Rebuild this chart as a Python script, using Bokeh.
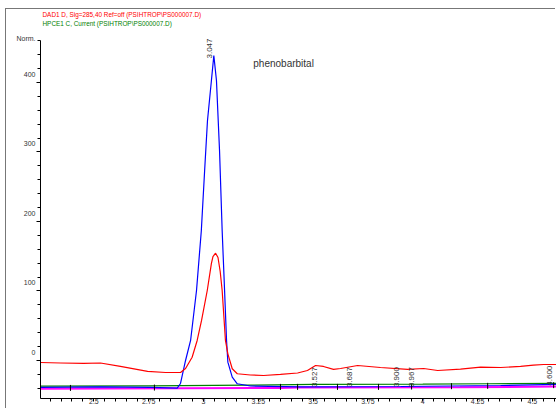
from math import pi

import numpy as np
from bokeh.core.properties import value
from bokeh.embed import file_html
from bokeh.models import FixedTicker, Label, LinearAxis, Range1d
from bokeh.plotting import figure
from bokeh.resources import INLINE

# ---- DAD1 D, Sig=285,40 (red trace): retention time [min] vs response [Norm.]
dad_time = [2.256, 2.348, 2.453, 2.530, 2.621, 2.745, 2.827, 2.895, 2.918, 2.948,
            2.971, 2.991, 3.017, 3.036, 3.043, 3.055, 3.066, 3.076, 3.085, 3.100,
            3.111, 3.131, 3.154, 3.214, 3.274, 3.351, 3.429, 3.474, 3.511, 3.547,
            3.593, 3.625, 3.703, 3.807, 3.931, 4.004, 4.068, 4.172, 4.264, 4.355,
            4.446, 4.505, 4.551, 4.610]
dad_signal = [-2.9, -3.6, -4.3, -3.6, -8.6, -15.8, -17.3, -17.3, -11.5, 4.7,
              28.8, 57.6, 100.7, 139.6, 149.6, 154.4, 148.2, 128.0, 100.7, 28.8,
              9.6, -11.9, -19.1, -20.9, -21.6, -20.1, -18.0, -14.4, -7.2, -8.6,
              -12.9, -11.5, -7.2, -10.1, -12.9, -11.5, -14.4, -12.5, -9.6, -10.1,
              -8.6, -6.8, -5.8, -5.8]

# ---- integrated signal (blue trace)
int_time = [2.256, 2.530, 2.758, 2.880, 2.895, 2.918, 2.941, 2.968, 2.990, 3.005,
            3.018, 3.036, 3.047, 3.059, 3.073, 3.085, 3.096, 3.105, 3.111, 3.131,
            3.154, 3.214, 3.443, 3.899, 4.355, 4.610]
int_signal = [-38.8, -38.1, -38.8, -39.9, -33.1, 0.0, 28.8, 100.7, 187.0, 273.0,
              345.0, 402.9, 438.8, 402.9, 302.0, 187.0, 100.7, 28.8, -2.4, -24.0,
              -33.5, -36.7, -38.1, -37.4, -36.0, -34.5]

# ---- HPCE1 C, Current (green trace)
hpce_time = [2.256, 2.750, 3.200, 3.500, 4.000, 4.300, 4.610]
hpce_signal = [-37.0, -36.5, -35.5, -34.5, -34.0, -33.5, -33.0]

# ---- integration baseline (magenta)
base_time = [2.256, 3.350, 3.430, 4.170, 4.610]
base_signal = [-40.5, -39.5, -39.0, -38.5, -37.5]

# ---- integration event markers on the baseline
event_time = [2.393, 2.776, 3.351, 3.429, 3.611, 3.798, 3.949, 4.131, 4.296, 4.597]
event_level = [-39.5, -39.0, -38.0, -38.0, -38.0, -38.0, -37.5, -37.0, -36.5, -35.5]

# ---- retention-time labels (peak apex of the integrated signal)
peak_rt = [3.047, 3.527, 3.687, 3.900, 3.967, 4.600]
peak_height = [438.8, -34.0, -34.0, -34.0, -34.0, -32.0]
peak_text = ["3.047", "3.527", "3.687", "3.900", "3.967", "4.600"]

# ---- axes
x_ticks = [2.5, 2.75, 3.0, 3.25, 3.5, 3.75, 4.0, 4.25, 4.5]
x_tick_labels = ["2.5", "2.75", "3", "3.25", "3.5", "3.75", "4", "4.25", "4.5"]
y_ticks = [0, 100, 200, 300, 400]
y_tick_labels = ["0", "100", "200", "300", "400"]

X_START, X_END = 2.2564, 4.610
Y_START, Y_AXIS_TOP = -54.7, 460.4
Y_TOP = 505.0            # frame reaches up to the header lines
LABEL_SHIFT = 11.5       # y tick labels sit a little above their ticks
NORM_AT = 451.8          # where the unit caption sits on the label scale

NARROW = "Liberation Sans Narrow, Liberation Sans"
INK = "#333333"

p = figure(width=550, height=400, x_range=(X_START, X_END), y_range=(Y_START, Y_TOP),
           output_backend="svg", toolbar_location=None,
           min_border_left=34, min_border_right=0, min_border_top=0, min_border_bottom=11)
p.margin = (9, 0, 0, 6)
p.styles = {"box-shadow": "-1px -1px 0 #777777"}
p.outline_line_color = None
p.xgrid.visible = False
p.ygrid.visible = False
p.background_fill_color = "white"
p.border_fill_color = "white"

# x axis
xa = p.xaxis[0]
xa.ticker = FixedTicker(ticks=x_ticks, minor_ticks=list(np.round(np.arange(2.30, 4.61, 0.05), 2)))
xa.major_label_overrides = dict(zip(x_ticks, x_tick_labels))
xa.major_tick_out = 0
xa.major_tick_in = 0
xa.minor_tick_out = 3
xa.minor_tick_in = 0
xa.major_label_standoff = -3
xa.axis_line_color = "black"
xa.minor_tick_line_color = "black"
xa.major_label_text_font = NARROW
xa.major_label_text_font_size = "7px"
xa.major_label_text_color = INK

# y axis: line and ticks only
ya = p.yaxis[0]
ya.bounds = (Y_START, Y_AXIS_TOP)
ya.ticker = FixedTicker(ticks=y_ticks, minor_ticks=list(range(-40, 461, 20)))
ya.major_label_overrides = {t: "" for t in y_ticks}
ya.major_tick_out = 4
ya.major_tick_in = 0
ya.minor_tick_out = 3
ya.minor_tick_in = 0
ya.major_label_standoff = 0
ya.axis_line_color = "black"
ya.major_tick_line_color = "black"
ya.minor_tick_line_color = "black"

# y tick labels and unit caption on a slightly shifted scale
p.extra_y_ranges = {"ylab": Range1d(Y_START - LABEL_SHIFT, Y_TOP - LABEL_SHIFT)}
lab_overrides = dict(zip(y_ticks, y_tick_labels))
lab_overrides[NORM_AT] = "Norm."
ylab = LinearAxis(y_range_name="ylab",
                  ticker=FixedTicker(ticks=y_ticks + [NORM_AT], minor_ticks=[]),
                  major_label_overrides=lab_overrides,
                  axis_line_color=None, major_tick_line_color=None,
                  minor_tick_line_color=None, major_tick_out=0, major_tick_in=0,
                  minor_tick_out=0, minor_tick_in=0, major_label_standoff=1,
                  major_label_text_font=NARROW, major_label_text_font_size="7px",
                  major_label_text_color=INK)
p.add_layout(ylab, "left")

# traces
p.line(base_time, base_signal, line_color="#ff00ff", line_width=2)
p.line(hpce_time, hpce_signal, line_color="#008000", line_width=1.2)
p.line(int_time, int_signal, line_color="#0000ff", line_width=1.2)
p.line(dad_time, dad_signal, line_color="#ff0000", line_width=1.2)
p.scatter(event_time, event_level, marker="dash", angle=pi / 2, size=6,
          line_color="black", line_width=1)

# retention-time labels, rotated
p.text(x=peak_rt, y=peak_height, text=peak_text, angle=pi / 2,
       text_align="left", text_baseline="bottom", x_offset=-2, y_offset=3,
       text_font=value(NARROW), text_font_size="8px", text_color=INK)

# compound name
p.add_layout(Label(x=3.227, y=427.3, text="phenobarbital",
                   text_font=NARROW, text_font_size="10px", text_color=INK,
                   text_baseline="middle"))

# signal descriptions
p.add_layout(Label(x=X_START, y=497.8, x_offset=2,
                   text="DAD1 D, Sig=285,40 Ref=off (PSIHTROP\\PS000007.D)",
                   text_font=NARROW, text_font_size="6.4px", text_color="#ff0000",
                   text_baseline="middle"))
p.add_layout(Label(x=X_START, y=484.9, x_offset=2,
                   text="HPCE1 C, Current (PSIHTROP\\PS000007.D)",
                   text_font=NARROW, text_font_size="6.4px", text_color="#008000",
                   text_baseline="middle"))

open("out.html", "w").write(file_html(p, INLINE))
